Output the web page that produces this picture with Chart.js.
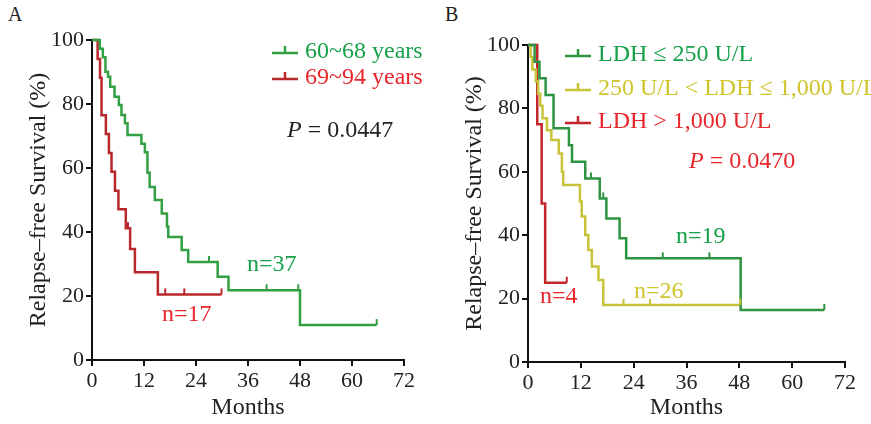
<!DOCTYPE html>
<html>
<head>
<meta charset="utf-8">
<script src="https://cdn.jsdelivr.net/npm/chart.js@4.4.1/dist/chart.umd.min.js"></script>
<style>
body{margin:0;background:#fff;width:871px;height:424px;overflow:hidden;position:relative;font-family:"Liberation Serif",serif}
.panel{position:absolute;top:0;height:424px}
#wrapA{left:0;width:436px}
#wrapB{left:436px;width:435px}
.tag{position:absolute;top:3px;font-size:20px;color:#222}
</style>
</head>
<body>
<div class="tag" style="left:8px">A</div>
<div class="tag" style="left:445px">B</div>
<div id="wrapA" class="panel"><canvas id="chartA" width="436" height="424"></canvas></div>
<div id="wrapB" class="panel"><canvas id="chartB" width="435" height="424"></canvas></div>
<script>
// ---- panel A: age groups ----
const youngMonths = [0, 1.8, 2.5, 3.1, 3.7, 4.2, 5.2, 6.2, 6.8, 7.6, 8.2, 11.4, 12.2, 12.8, 13.3, 14.5, 16.1, 17.3, 17.6, 20.7, 22.2, 29.0, 31.5, 48.0, 65.7];
const youngSurv   = [100, 97.3, 94.6, 90.1, 88.5, 85.4, 82.3, 79.7, 76.6, 74.0, 70.3, 67.6, 64.9, 58.5, 54.1, 50.0, 45.8, 41.7, 38.4, 34.4, 30.6, 26.0, 21.8, 10.9, 10.9];
const youngCensor = [27.0, 40.3, 47.6, 65.7];

const oldMonths = [0, 1.3, 1.85, 2.2, 3.2, 3.9, 4.5, 5.3, 6.1, 7.8, 8.8, 9.9, 15.2, 29.9];
const oldSurv   = [100, 94.1, 88.2, 76.5, 70.6, 64.7, 58.8, 52.9, 47.1, 41.2, 34.7, 27.4, 20.5, 20.5];
const oldCensor = [8.3, 16.9, 21.3, 29.9];

// ---- panel B: LDH groups ----
const ldhLowMonths = [0, 1.5, 2.6, 4.0, 5.8, 9.3, 10.0, 13.0, 16.3, 17.8, 20.8, 22.3, 48.3, 67.3];
const ldhLowSurv   = [100, 94.7, 89.5, 84.2, 73.7, 68.4, 63.2, 57.9, 51.6, 45.3, 39.0, 32.7, 16.4, 16.4];
const ldhLowCensor = [14.3, 17.1, 30.6, 41.2, 67.3];

const ldhMidMonths = [0, 0.6, 1.0, 1.8, 2.3, 2.8, 3.3, 4.3, 5.3, 7.0, 7.7, 8.0, 11.8, 12.2, 13.0, 13.7, 14.5, 16.0, 17.1, 48.2];
const ldhMidSurv   = [100, 96.2, 92.3, 88.5, 84.6, 80.8, 76.9, 73.1, 70.0, 65.8, 60.0, 55.8, 50.6, 45.9, 40.1, 35.3, 30.1, 25.9, 18.0, 18.0];
const ldhMidCensor = [21.7, 27.7, 48.2];

const ldhHighMonths = [0, 2.1, 3.1, 3.9, 8.8];
const ldhHighSurv   = [100, 75, 50, 25, 25];
const ldhHighCensor = [8.8];

const monthTicks = [0, 12, 24, 36, 48, 60, 72];
const FONT = '"Liberation Serif", serif';

function pts(t, s) { return t.map((m, i) => ({x: m, y: s[i]})); }

function survAt(ds, t) {
  let v = ds.surv[0];
  for (let i = 0; i < ds.months.length; i++) if (ds.months[i] <= t) v = ds.surv[i];
  return v;
}

// censor ticks, legend and text notes
const extras = {
  id: 'extras',
  afterDatasetsDraw(chart) {
    const ctx = chart.ctx, xs = chart.scales.x, ys = chart.scales.y;
    const o = chart.options.plugins.extras;
    ctx.save();
    ctx.lineWidth = 2;
    chart.data.datasets.forEach(ds => {
      ctx.strokeStyle = ds.borderColor;
      ds.censor.forEach(t => {
        const px = xs.getPixelForValue(t), py = ys.getPixelForValue(survAt(ds, t));
        ctx.beginPath(); ctx.moveTo(px, py); ctx.lineTo(px, py - 6); ctx.stroke();
      });
    });
    ctx.textBaseline = 'middle';
    ctx.font = '24px ' + FONT;
    o.legend.forEach((it, i) => {
      const ds = chart.data.datasets[i];
      const y = it.y;
      ctx.strokeStyle = ds.borderColor;
      ctx.lineWidth = 2.5;
      ctx.beginPath(); ctx.moveTo(it.x, y); ctx.lineTo(it.x + 26, y);
      ctx.moveTo(it.x + 13, y); ctx.lineTo(it.x + 13, y - 7); ctx.stroke();
      ctx.fillStyle = it.color;
      ctx.fillText(ds.label, it.x + 33, y - 1);
    });
    o.notes.forEach(n => {
      ctx.fillStyle = n.color;
      let x = n.x;
      if (n.italic) {
        ctx.font = 'italic 24px ' + FONT;
        ctx.fillText(n.italic, x, n.y);
        x += ctx.measureText(n.italic).width;
        ctx.font = '24px ' + FONT;
      }
      ctx.fillText(n.text, x, n.y);
    });
    ctx.restore();
  }
};

function makePanel(id, sets, pad, xHeight, legend, notes) {
  return new Chart(document.getElementById(id), {
    type: 'line',
    data: {
      datasets: sets.map(s => ({
        label: s.label,
        data: pts(s.months, s.surv),
        months: s.months, surv: s.surv, censor: s.censor,
        borderColor: s.color,
        borderWidth: 2.5,
        stepped: true,
        pointRadius: 0,
        fill: false,
        clip: false
      }))
    },
    options: {
      responsive: false,
      animation: false,
      devicePixelRatio: 1,
      layout: {padding: pad},
      plugins: {legend: {display: false}, tooltip: {enabled: false}, extras: {legend: legend, notes: notes}},
      scales: {
        x: {
          type: 'linear', min: 0, max: 72,
          afterFit: s => { s.height = xHeight; },
          afterBuildTicks: s => { s.ticks = monthTicks.map(v => ({value: v})); },
          ticks: {color: '#222', font: {family: FONT, size: 22}, padding: 2},
          grid: {drawOnChartArea: false, drawTicks: true, tickLength: 6, color: '#111', lineWidth: 2},
          border: {display: true, color: '#111', width: 2},
          title: {display: true, text: 'Months', color: '#222', font: {family: FONT, size: 24}, padding: {top: 0, bottom: 2}}
        },
        y: {
          min: 0, max: 100,
          afterFit: s => { s.width = 92; },
          ticks: {stepSize: 20, color: '#222', font: {family: FONT, size: 22}, padding: 2},
          grid: {drawOnChartArea: false, drawTicks: true, tickLength: 6, color: '#111', lineWidth: 2},
          border: {display: true, color: '#111', width: 2},
          title: {display: true, text: 'Relapse\u2013free Survival (%)', color: '#222', font: {family: FONT, size: 24}, padding: {top: 24, bottom: 0}}
        }
      }
    },
    plugins: [extras]
  });
}

const GREEN_T = '#17a04a', RED_T = '#e8262b', YEL_T = '#cfc42c';

makePanel('chartA', [
  {label: '60~68 years', months: youngMonths, surv: youngSurv, censor: youngCensor, color: '#33a043'},
  {label: '69~94 years', months: oldMonths, surv: oldSurv, censor: oldCensor, color: '#b8282d'}
], {left: 0, top: 40, right: 32, bottom: 0}, 64,
  [{x: 272, y: 53, color: GREEN_T}, {x: 272, y: 79, color: RED_T}],
  [
    {italic: 'P', text: ' = 0.0447', x: 287, y: 131, color: '#222'},
    {text: 'n=37', x: 247, y: 265, color: GREEN_T},
    {text: 'n=17', x: 162, y: 315, color: RED_T}
  ]);

makePanel('chartB', [
  {label: 'LDH \u2264 250 U/L', months: ldhLowMonths, surv: ldhLowSurv, censor: ldhLowCensor, color: '#2f9440'},
  {label: '250 U/L < LDH \u2264 1,000 U/L', months: ldhMidMonths, surv: ldhMidSurv, censor: ldhMidCensor, color: '#c8c43a'},
  {label: 'LDH > 1,000 U/L', months: ldhHighMonths, surv: ldhHighSurv, censor: ldhHighCensor, color: '#c4262b'}
], {left: 0, top: 45, right: 26, bottom: 0}, 62,
  [{x: 129, y: 56, color: GREEN_T}, {x: 129, y: 90, color: YEL_T}, {x: 129, y: 123, color: RED_T}],
  [
    {italic: 'P', text: ' = 0.0470', x: 253, y: 162, color: RED_T},
    {text: 'n=19', x: 240, y: 237, color: GREEN_T},
    {text: 'n=26', x: 198, y: 292, color: YEL_T},
    {text: 'n=4', x: 104, y: 297, color: RED_T}
  ]);
</script>
</body>
</html>
